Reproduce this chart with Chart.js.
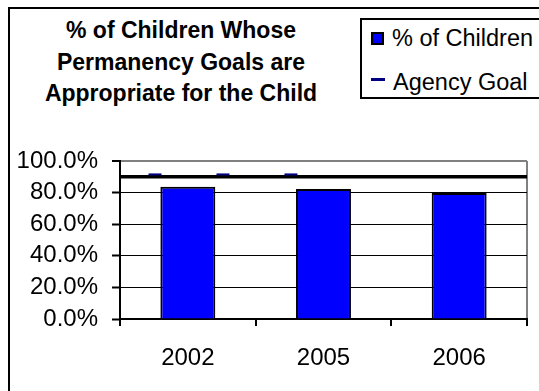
<!DOCTYPE html>
<html>
<head>
<meta charset="utf-8">
<script src="https://cdn.jsdelivr.net/npm/chart.js@4"></script>
<style>
  body { margin: 0; background: #fff; font-family: "Liberation Sans", Arial, sans-serif; }
  #wrap { position: relative; width: 539px; height: 391px; overflow: hidden; }
  #frame { position: absolute; left: 8px; top: 7px; width: 600px; height: 500px; border: 2px solid #000; }
  #title { position: absolute; left: 31px; width: 300px; top: 15px; text-align: center;
           font-weight: bold; font-size: 23px; line-height: 31.5px; color: #000; }
  #legend { position: absolute; left: 360px; top: 18px; width: 300px; height: 77px; border: 2px solid #000; background: #fff; }
  .lg-text { position: absolute; font-size: 23.5px; line-height: 24px; color: #000; white-space: nowrap; }
  .lg-box { position: absolute; width: 9px; height: 9px; border: 2px solid #000; background: #0000ff; }
  .lg-dash { position: absolute; width: 14px; height: 3px; background: #000080; }
  canvas { position: absolute; left: 0; top: 0; }
</style>
</head>
<body>
<div id="wrap">
  <div id="frame"></div>
  <div id="title">% of Children Whose<br>Permanency Goals are<br>Appropriate for the Child</div>
  <div id="legend"></div>
  <canvas id="myChart" width="539" height="391"></canvas>
</div>
<script>
// Chart data
const years = ["2002", "2005", "2006"];
const childrenPct = [83.7, 82.3, 79.8];
const goalPct = [90, 90];
const goalMarkerX = [0.086, 0.253, 0.42];
const goalMarkerY = [91.5, 91.5, 91.5];
const yTicks = [0, 20, 40, 60, 80, 100];
const seriesLabels = ["% of Children", "Agency Goal"];

const font = "'Liberation Sans', Arial, sans-serif";

// Legend (drawn as html, top right corner box)
const legend = document.getElementById("legend");
legend.innerHTML =
  '<div class="lg-box" style="left:9px;top:12px"></div>' +
  '<div class="lg-text" style="left:30px;top:6px">' + seriesLabels[0] + "</div>" +
  '<div class="lg-dash" style="left:9px;top:58px"></div>' +
  '<div class="lg-text" style="left:31px;top:50px">' + seriesLabels[1] + "</div>";

const ctx = document.getElementById("myChart");

const chartData = {
  labels: years,
  datasets: [
    {
      type: "bar",
      label: seriesLabels[0],
      data: childrenPct,
      backgroundColor: "#0000ff",
      borderColor: "#000",
      borderWidth: 2,
      grouped: false,
      barPercentage: 0.405,
      categoryPercentage: 1,
      order: 2,
    },
    {
      type: "line",
      label: seriesLabels[1],
      xAxisID: "xGoal",
      data: goalPct.map((v, i) => ({ x: i, y: v })),
      borderColor: "#000",
      borderWidth: 3.5,
      pointRadius: 0,
      fill: false,
      order: 1,
    },
    {
      type: "scatter",
      label: "goal markers",
      xAxisID: "xGoal",
      data: goalMarkerX.map((x, i) => ({ x: x, y: goalMarkerY[i] })),
      pointStyle: "line",
      pointRadius: 6.5,
      borderColor: "#000080",
      borderWidth: 2,
      order: 0,
    },
  ],
};

const options = {
  responsive: false,
  animation: false,
  layout: { padding: { top: 161, right: 12, left: 0, bottom: 0 } },
  plugins: {
    legend: { display: false },
    tooltip: { enabled: false },
  },
  scales: {
    x: {
      type: "category",
      offset: true,
      afterFit: (scale) => { scale.height = 72; },
      grid: {
        offset: true,
        drawOnChartArea: true,
        // only the plot area's right edge is visible (grey)
        color: (c) => (c.type === "scale" ? "#808080" : "rgba(0,0,0,0)"),
        lineWidth: 2,
        tickColor: "#000",
        tickWidth: 2,
        tickLength: 7,
      },
      border: { display: true, color: "#000", width: 2 },
      ticks: {
        color: "#000",
        padding: 18,
        font: { family: font, size: 24 },
      },
    },
    xGoal: {
      type: "linear",
      display: false,
      min: 0,
      max: 1,
    },
    y: {
      min: 0,
      max: 100,
      afterFit: (scale) => { scale.width = 120; },
      afterBuildTicks: (scale) => {
        scale.ticks = yTicks.map((v) => ({ value: v }));
      },
      grid: {
        color: (c) => (c.tick && c.tick.value === 100 ? "#808080" : "#000"),
        lineWidth: (c) => (c.tick && c.tick.value === 100 ? 2 : 1),
        tickColor: "#000",
        tickWidth: 2,
        tickLength: 8,
      },
      border: { display: true, color: "#000", width: 2 },
      ticks: {
        color: "#000",
        padding: 14,
        autoSkip: false,
        font: { family: font, size: 24 },
        callback: (value) => value.toFixed(1) + "%",
      },
    },
  },
};

new Chart(ctx, { data: chartData, options: options });
</script>
</body>
</html>
